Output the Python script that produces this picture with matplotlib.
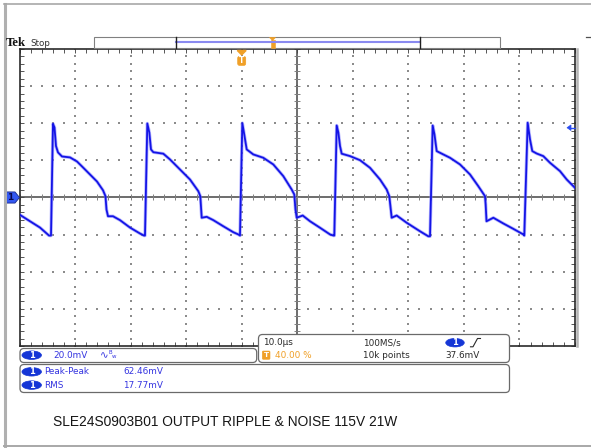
import numpy as np
import matplotlib
matplotlib.use('Agg')
import matplotlib.pyplot as plt
from matplotlib.patches import FancyBboxPatch, Ellipse, Polygon, Rectangle

# ripple trace: time from left edge (us) and level (mV)
t_us = [0.00, 1.89, 3.69, 5.31, 5.67, 6.03, 6.30, 6.57, 6.93, 7.65, 9.09, 10.35, 11.43, 12.69,
        13.95, 15.03, 15.48, 15.66, 15.93, 16.83, 18.09, 19.89, 21.69, 22.41,
        22.59, 23.01, 23.37, 23.67, 24.09, 25.89, 27.09, 28.89, 30.69, 32.19, 32.55, 32.80,
        33.70, 34.89, 36.69, 38.49, 39.39,
        39.69, 40.11, 40.40, 40.90, 42.09, 43.89, 45.69, 47.49, 49.00, 49.47, 49.68, 49.90,
        50.98, 52.30, 54.10, 55.90, 56.53,
        56.67, 57.10, 57.40, 57.70, 58.00, 59.50, 61.30, 63.10, 64.90, 66.10, 66.57, 67.00,
        67.90, 69.70, 72.10, 73.59,
        73.90, 74.38, 74.70, 75.10, 76.29, 77.50, 79.30, 81.10, 82.59, 83.80, 83.92, 84.07,
        85.30, 87.10, 88.90, 90.70,
        90.87, 91.48, 91.90, 92.31, 93.10, 94.29, 95.50, 97.30, 98.51, 100.0]
v_mv = [-9.2, -12.8, -16.2, -20.5, -20.5, 39.7, 37.7, 27.7, 24.3, 22.1, 21.6, 19.4, 16.2, 12.4,
        8.6, 3.9, 0.7, -6.5, -10.1, -10.1, -12.2, -16.2, -19.4, -20.5,
        -20.5, 39.9, 35.0, 25.9, 24.4, 23.6, 20.5, 15.1, 9.7, 3.4, 0.7, -10.9,
        -10.4, -12.2, -15.5, -18.7, -19.9,
        -20.5, 40.1, 35.0, 25.9, 23.2, 21.4, 17.8, 11.5, 4.3, 1.6, -6.5, -10.9,
        -9.7, -12.8, -16.3, -19.9, -20.5,
        -20.5, 38.8, 35.0, 27.7, 23.6, 22.3, 20.1, 16.0, 9.7, 4.3, 0.7, -10.9,
        -9.7, -13.6, -18.2, -20.9,
        -20.9, 38.8, 34.0, 25.0, 23.2, 21.4, 17.8, 12.4, 6.1, 0.7, -3.8, -12.8,
        -10.9, -14.0, -16.9, -19.9,
        -20.5, 40.3, 31.3, 25.0, 23.7, 22.3, 18.7, 14.2, 9.7, 5.2]

mv_per_div = 20.0
us_per_div = 10.0
trig_pos = 40.0       # % of record
trig_level = 37.6     # mV
horiz_label = '10.0µs'
ch_label = '20.0mV'
rate_label = '100MS/s'
rec_label = '10k points'
trig_pct_label = '40.00 %'
trig_lvl_label = '37.6mV'
meas_names = ['Peak-Peak', 'RMS']
meas_vals = ['62.46mV', '17.77mV']
caption = 'SLE24S0903B01 OUTPUT RIPPLE & NOISE 115V 21W'

W, H = 591, 448
fig = plt.figure(figsize=(W/100, H/100), dpi=100)
fig.patch.set_facecolor('white')

# graticule axes (pixel box 19.5..575 x 49..346)
ax = fig.add_axes([19.5/W, (H-346)/H, 555.5/W, 297/H])
ax.set_xlim(0, 10*us_per_div)
ax.set_ylim(-4*mv_per_div, 4*mv_per_div)
ax.set_xticks(np.arange(0, 10*us_per_div+1, us_per_div))
ax.set_yticks(np.arange(-4*mv_per_div, 4*mv_per_div+1, mv_per_div))
ax.set_xticks(np.arange(0, 10*us_per_div+0.01, us_per_div/5), minor=True)
ax.set_yticks(np.arange(-4*mv_per_div, 4*mv_per_div+0.01, mv_per_div/5), minor=True)
ax.tick_params(which='both', direction='in', top=True, right=True, length=3,
               width=0.7, color='#555555', labelbottom=False, labelleft=False)
for s in ax.spines.values():
    s.set_color('#2a2a2a'); s.set_linewidth(1.2)

fine_x = np.arange(0, 10*us_per_div+0.01, us_per_div/5)
fine_y = np.arange(-4*mv_per_div, 4*mv_per_div+0.01, mv_per_div/5)
dot = dict(s=0.8, marker='s', color='#8c8c8c', linewidths=0, zorder=1)
for k in range(1, 10):
    if k == 5: continue
    ax.scatter(np.full_like(fine_y, k*us_per_div), fine_y, **dot)
for k in range(-3, 4):
    if k == 0: continue
    ax.scatter(fine_x, np.full_like(fine_x, k*mv_per_div), **dot)
ax.axhline(0, color='#454545', lw=1.1, zorder=2)
ax.axvline(5*us_per_div, color='#454545', lw=1.1, zorder=2)
ax.plot(fine_x, np.zeros_like(fine_x), ls='none', marker='|', ms=4, mew=0.7, color='#808080', zorder=2)
ax.plot(np.full_like(fine_y, 5*us_per_div), fine_y, ls='none', marker='_', ms=4, mew=0.7, color='#808080', zorder=2)

# the trace
ax.plot(t_us, v_mv, color='#7a7aff', lw=2.4, alpha=0.55, zorder=4, solid_joinstyle='round')
ax.plot(t_us, v_mv, color='#1414e6', lw=1.3, zorder=5, solid_joinstyle='round')

# channel 1 ground marker (left) and trigger level arrow (right)
ytr = ax.get_yaxis_transform()
ax.add_patch(Polygon([(-0.0261, 3.0), (-0.0081, 3.0), (0.0, 0.0), (-0.0081, -3.0), (-0.0261, -3.0)],
                     closed=True, transform=ytr, clip_on=False, facecolor='#3358f2',
                     edgecolor='#1a2a8a', lw=0.6, zorder=6))
ax.text(-0.017, 0, '1', transform=ytr, ha='center', va='center', fontsize=6.5,
        fontweight='bold', color='#0a0a50', clip_on=False, zorder=7)
ax.add_patch(Polygon([(0.9856, trig_level), (0.9928, trig_level+1.5), (0.9928, trig_level-1.5)],
                     closed=True, transform=ytr, clip_on=False, facecolor='#2a4cf0',
                     edgecolor='#2a4cf0', lw=0.5, zorder=6))
ax.plot([0.992, 1.0], [trig_level, trig_level], transform=ytr, color='#2a4cf0', lw=1.0,
        clip_on=False, zorder=6)

# trigger position marker below top edge
xtr = ax.get_xaxis_transform()
tx = trig_pos/100*10*us_per_div
orange = '#f0a028'
ax.add_patch(Polygon([(tx-0.8, 0.995), (tx+0.8, 0.995), (tx, 0.98)], closed=True,
                     transform=xtr, facecolor=orange, edgecolor=orange, clip_on=False, zorder=6))
ax.add_patch(FancyBboxPatch((tx-0.72, 0.945), 1.44, 0.03, boxstyle='round,pad=0,rounding_size=0.3',
                            transform=xtr, facecolor=orange, edgecolor=orange, lw=0.5,
                            clip_on=False, zorder=6, mutation_aspect=0.02))
ax.text(tx, 0.961, 'T', transform=xtr, ha='center', va='center', fontsize=5.5,
        fontweight='bold', color='white', zorder=7)

# overlay in pixel coordinates for the scope frame and readouts
ov = fig.add_axes([0, 0, 1, 1], zorder=3)
ov.set_xlim(0, W); ov.set_ylim(H, 0); ov.axis('off'); ov.patch.set_alpha(0)

ov.plot([4.5, 4.5], [4, H], color='#b0b0b0', lw=2.2)
ov.plot([4, W], [4.5, 4.5], color='#a8a8a8', lw=1.2)
ov.plot([4, W], [446.5, 446.5], color='#a8a8a8', lw=1.4)
ov.plot([576.8, 576.8], [49, 346], color='#b4b4b4', lw=1.8)
ov.plot([586, W], [37.3, 37.3], color='#505050', lw=0.9)

ov.text(5.5, 43.5, 'Tek', family='Liberation Serif', fontweight='bold', fontsize=9.2,
        va='center', ha='left', color='#111111')
ov.text(30, 43.3, 'Stop', fontsize=6.3, va='center', ha='left', color='#303030')

# record view bar
ov.add_patch(Rectangle((93.5, 37), 406.5, 11.5, facecolor='white', edgecolor='#808080', lw=0.8))
ov.plot([176, 420], [42.5, 42.5], color='#8a8af0', lw=1.5)
ov.plot([176, 176], [37, 48.5], color='#202020', lw=1.0)
ov.plot([420, 420], [37, 48.5], color='#202020', lw=1.0)
ov.add_patch(Polygon([(269.5, 37.5), (275.5, 37.5), (272.5, 40.5)], closed=True,
                     facecolor=orange, edgecolor=orange, lw=0.5))
ov.add_patch(Rectangle((270.5, 40.5), 4, 7.5, facecolor=orange, edgecolor=orange, lw=0.4))

# readout boxes
box_kw = dict(facecolor='white', edgecolor='#6a6a6a', lw=0.9)
ov.add_patch(FancyBboxPatch((20, 348.5), 236.7, 14, boxstyle='round,pad=0,rounding_size=4', **box_kw))
ov.add_patch(FancyBboxPatch((258.5, 334.5), 251, 28, boxstyle='round,pad=0,rounding_size=4', **box_kw))
ov.add_patch(FancyBboxPatch((20, 364.5), 489.5, 28, boxstyle='round,pad=0,rounding_size=4', **box_kw))

blue_txt = '#3535e0'
fs = 6.4

def ch_badge(x, y, w=19.5):
    ov.add_patch(Ellipse((x, y), w, 8.5, facecolor='#1536d6', edgecolor='#1536d6', lw=0.5))
    ov.text(x, y, '1', ha='center', va='center', fontsize=6, fontweight='bold', color='white')

ch_badge(31.7, 355.2)
ov.text(53, 355.2, ch_label, fontsize=fs, va='center', ha='left', color=blue_txt)
ov.text(100, 355.5, '∿', fontsize=7.5, va='center', ha='left', color=blue_txt)
ov.text(108.5, 352.5, 'B', fontsize=4, va='center', ha='left', color=blue_txt)
ov.text(111.5, 357, 'w', fontsize=4, va='center', ha='left', color=blue_txt)

for i, (nm, val) in enumerate(zip(meas_names, meas_vals)):
    yy = 371.8 + i*13.3
    ch_badge(31.7, yy)
    ov.text(44, yy, nm, fontsize=fs, va='center', ha='left', color=blue_txt)
    ov.text(123, yy, val, fontsize=fs, va='center', ha='left', color=blue_txt)

dark = '#2a2a2a'
ov.text(263, 342.7, horiz_label, fontsize=fs, va='center', ha='left', color=dark)
ov.add_patch(FancyBboxPatch((262.3, 351), 7.7, 8.3, boxstyle='round,pad=0,rounding_size=1',
                            facecolor=orange, edgecolor=orange, lw=0.4))
ov.text(266.2, 355.2, 'T', fontsize=5.2, fontweight='bold', va='center', ha='center', color='white')
ov.text(275, 355.2, trig_pct_label, fontsize=fs, va='center', ha='left', color=orange)
ov.text(363, 342.7, rate_label, fontsize=fs, va='center', ha='left', color=dark)
ov.text(363, 355.2, rec_label, fontsize=fs, va='center', ha='left', color=dark)
ch_badge(455, 342.7, w=18.5)
ov.plot([470.5, 473, 477.5, 480.5], [346.8, 346.8, 338.5, 338.5], color=dark, lw=0.8)
ov.text(445.5, 355.2, trig_lvl_label, fontsize=fs, va='center', ha='left', color=dark)

ov.text(53, 421.7, caption, family='Liberation Sans', fontsize=9.9, va='center', ha='left',
        color='#151515')

fig.savefig('out.png', dpi=100)
